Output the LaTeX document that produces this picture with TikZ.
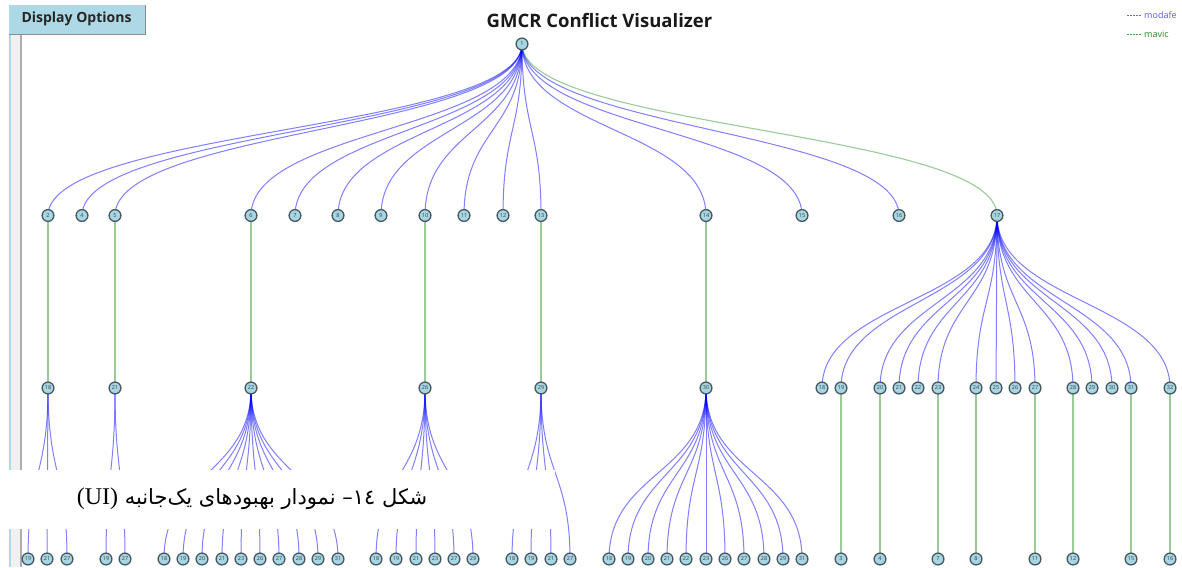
\documentclass[tikz,border=0pt]{standalone}
\usepackage{fontspec}
\setmainfont{Open Sans}
\newfontfamily\capfont[Script=Arabic]{DejaVu Sans}
\newfontfamily\latcap{Liberation Serif}
\TeXXeTstate=1
\pgfdeclarelayer{side}
\pgfdeclarelayer{edges}
\pgfdeclarelayer{cover}
\pgfsetlayers{side,edges,cover,main}
\definecolor{nodefill}{HTML}{A6D5E3}
\definecolor{btnfill}{HTML}{ADD8E6}
\definecolor{nodeline}{HTML}{47595F}
\definecolor{edgeblue}{HTML}{0000FF}
\definecolor{edgegreen}{HTML}{1F8F1F}
\tikzset{
  nd/.style={circle,draw=nodeline,fill=nodefill,line width=1.3pt,minimum size=11.8pt,inner sep=0pt,
    font=\fontsize{5.5}{6}\selectfont,text=black!75},
  modafe/.style={draw=edgeblue,opacity=.5,line width=1pt},
  mavic/.style={draw=edgegreen,opacity=.45,line width=1.1pt},
}
% style, parent, child prefix, y, list of x/label
\newcommand{\kids}[5]{%
  \foreach \cx/\cl in {#5}{%
    \node[nd] (#3\cx) at (\cx,#4) {\cl};
    \begin{pgfonlayer}{edges}
      \draw[#1] (#2.center) .. controls +(0,86) and +(0,-86) .. (#3\cx.center);
    \end{pgfonlayer}
  }%
}
\begin{document}
\begin{tikzpicture}[x=1pt,y=-1pt]
\useasboundingbox (0,0) rectangle (1182,567);
\begin{pgfonlayer}{side}
  \fill[white] (0,0) rectangle (1182,567);
  \fill[btnfill] (9,30) rectangle (11,567);
  \fill[black!6] (11,30) rectangle (20,567);
  \fill[black!32] (20,30) rectangle (22,567);
\end{pgfonlayer}
\node[fill=btnfill,draw=none,minimum width=136pt,minimum height=29pt,inner sep=0pt,anchor=north west] (btn) at (9,5) {};
\draw[black!45,line width=1pt] (btn.north east) -- (btn.south east) -- (btn.south west);
\node[font=\fontsize{14}{16}\selectfont\bfseries,text=black!85] (btnlabel) at (76.5,19) {Display Options};
\node[font=\fontsize{18.5}{20}\selectfont\bfseries,text=black!90] (title) at (599.5,21) {GMCR Conflict Visualizer};
% legend
\coordinate (la) at (1127,15); \coordinate (lb) at (1141,15);
\coordinate (lc) at (1127,34); \coordinate (ld) at (1141,34);
\draw[edgeblue,opacity=.6,dashed,dash pattern=on 2pt off 1pt,line width=.8pt] (la) -- (lb);
\draw[edgegreen,opacity=.8,dashed,dash pattern=on 2pt off 1pt,line width=.8pt] (lc) -- (ld);
\node[anchor=west,inner sep=0pt,text=edgeblue!65,font=\fontsize{9}{10}\selectfont] (lgm) at (1144,15) {modafe};
\node[anchor=west,inner sep=0pt,text=edgegreen,font=\fontsize{9}{10}\selectfont] (lgv) at (1144,34) {mavic};
% root
\node[nd] (r) at (522,44) {1};
% level 1
\kids{modafe}{r}{a}{215.5}{48/2,82/4,115/5,251/6,295/7,338/8,381/9,425/10,464/11,503/12,541/13,706/14,802/15,899/16}
\kids{mavic}{r}{a}{215.5}{997/17}
% level 2
\kids{mavic}{a48}{b}{388}{48/18}
\kids{mavic}{a115}{b}{388}{115/21}
\kids{mavic}{a251}{b}{388}{251/22}
\kids{mavic}{a425}{b}{388}{425/26}
\kids{mavic}{a541}{b}{388}{541/29}
\kids{mavic}{a706}{b}{388}{706/30}
\kids{modafe}{a997}{b}{388}{822/18,841/19,880/20,899/21,918/22,938/23,976/24,996/25,1015/26,1035/27,1073/28,1092/29,1112/30,1131/31,1170/32}
% level 3
\kids{modafe}{b48}{c}{559}{28/19,47/21,67/27}
\kids{modafe}{b115}{c}{559}{106/19,125/27}
\kids{modafe}{b251}{c}{559}{164/18,183/19,202/20,222/21,241/23,260/26,279/27,299/28,318/29,338/31}
\kids{modafe}{b425}{c}{559}{376/18,396/19,416/21,435/23,454/27,473/29}
\kids{modafe}{b541}{c}{559}{512/18,531/19,551/21,570/27}
\kids{modafe}{b706}{c}{559}{609/18,628/19,648/20,667/21,686/22,706/23,725/26,744/27,764/28,783/29,802/31}
\kids{mavic}{b841}{c}{559}{841/3}
\kids{mavic}{b880}{c}{559}{880/4}
\kids{mavic}{b938}{c}{559}{938/7}
\kids{mavic}{b976}{c}{559}{976/8}
\kids{mavic}{b1035}{c}{559}{1035/11}
\kids{mavic}{b1073}{c}{559}{1073/12}
\kids{mavic}{b1131}{c}{559}{1131/15}
\kids{mavic}{b1170}{c}{559}{1170/16}
% caption band
\begin{pgfonlayer}{cover}
  \fill[white] (0,469.5) rectangle (555,529);
\end{pgfonlayer}
\node[inner sep=0pt,font=\fontsize{21}{24}\selectfont] (cap) at (252,498.5) {\capfont\beginR شکل \beginL ١٤\endL– نمودار بهبودهای یک‌جانبه \beginL{\latcap\fontsize{24}{26}\selectfont (UI)}\endL\endR};
\end{tikzpicture}
\end{document}
